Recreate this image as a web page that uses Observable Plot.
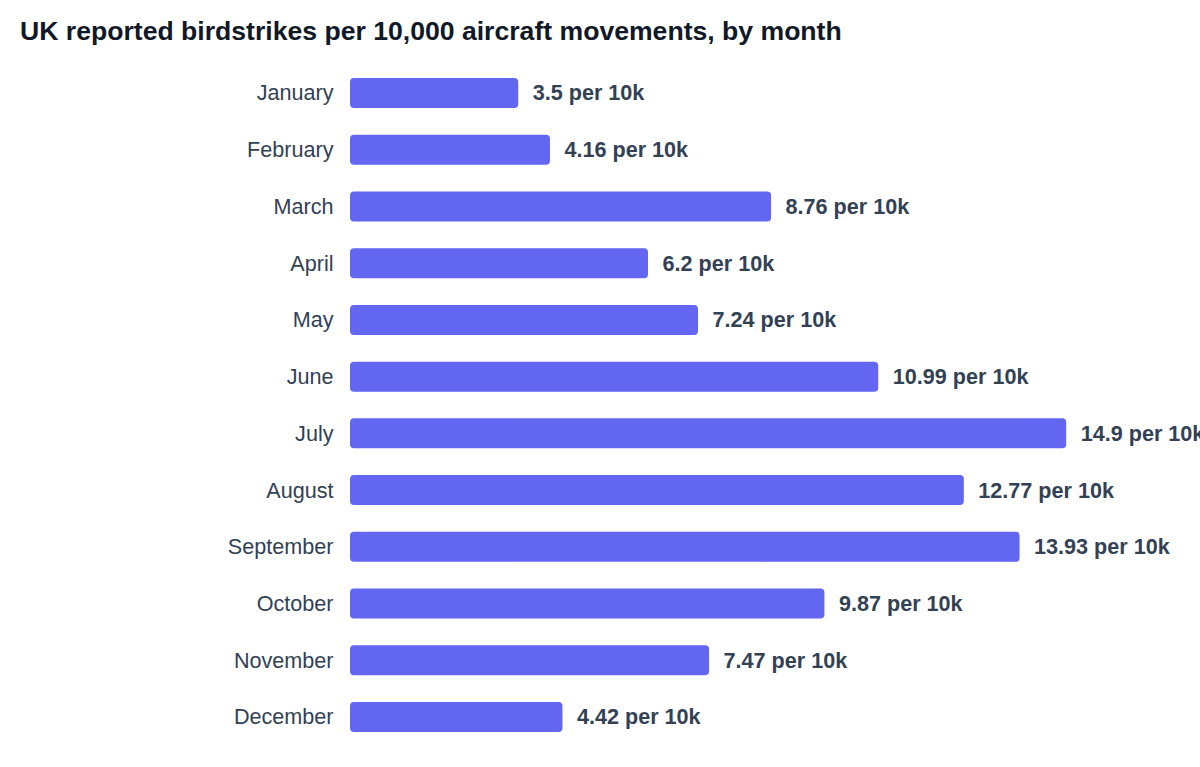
<!DOCTYPE html>
<html>
<head>
<meta charset="utf-8">
<script src="https://cdn.jsdelivr.net/npm/d3@7"></script>
<script src="https://cdn.jsdelivr.net/npm/@observablehq/plot@0.6"></script>
<style>
  html, body { margin: 0; padding: 0; background: #ffffff; }
  body { width: 1200px; height: 767px; overflow: hidden; font-family: "Liberation Sans", Arial, sans-serif; }
  #title { height: 60px; box-sizing: border-box; padding: 14px 0 0 20px; font-size: 26.6px; line-height: 34px; font-weight: 700; color: #111827; white-space: nowrap; }
  #chart svg { display: block; }
</style>
</head>
<body>
<div id="title">UK reported birdstrikes per 10,000 aircraft movements, by month</div>
<div id="chart"></div>
<script>
const months = ["January","February","March","April","May","June","July","August","September","October","November","December"];
const rates = [3.5, 4.16, 8.76, 6.2, 7.24, 10.99, 14.9, 12.77, 13.93, 9.87, 7.47, 4.42];
const unitSuffix = " per 10k";

const data = months.map((m, i) => ({month: m, rate: rates[i]}));

const chart = Plot.plot({
  width: 1200,
  height: 707,
  marginLeft: 350,
  marginRight: 129,
  marginTop: 18,
  marginBottom: 35,
  style: {fontFamily: '"Liberation Sans", Arial, sans-serif', color: "#334155", background: "#ffffff", overflow: "visible"},
  x: {domain: [0, 15], axis: null},
  y: {domain: months, paddingInner: 0.471, paddingOuter: 0, round: false, label: null},
  marks: [
    Plot.axisY({tickSize: 0, tickPadding: 17, fontSize: 21.6, label: null, fill: "#334155"}),
    Plot.barX(data, {x: "rate", y: "month", fill: "#6366f1", rx: 4}),
    Plot.text(data, {x: "rate", y: "month", text: d => d.rate + unitSuffix, dx: 14, textAnchor: "start", fontSize: 21.6, fontWeight: "bold", fill: "#334155"})
  ]
});
document.getElementById("chart").appendChild(chart);
</script>
</body>
</html>
